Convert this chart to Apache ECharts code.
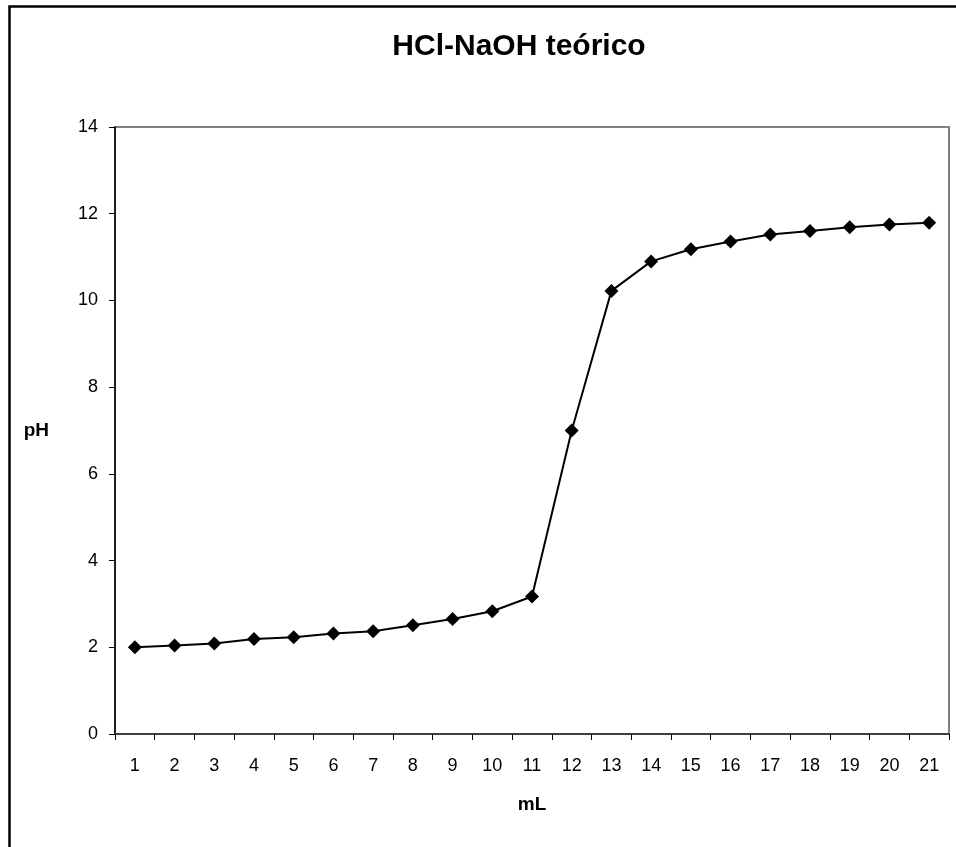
<!DOCTYPE html>
<html>
<head>
<meta charset="utf-8">
<script src="https://cdn.jsdelivr.net/npm/echarts@6/dist/echarts.min.js"></script>
<style>
html,body{margin:0;padding:0;background:#fff;}
#chart{width:956px;height:847px;}
</style>
</head>
<body>
<div id="chart"></div>
<script>
const categories = ['1','2','3','4','5','6','7','8','9','10','11','12','13','14','15','16','17','18','19','20','21'];
const phValues = [2.00,2.04,2.09,2.19,2.23,2.32,2.37,2.51,2.65,2.83,3.17,7.00,10.22,10.90,11.18,11.36,11.52,11.60,11.69,11.75,11.79];
const yTicks = [0,2,4,6,8,10,12,14];

const chart = echarts.init(document.getElementById('chart'), null, {renderer:'canvas'});
const font = 'Liberation Sans, Arial, sans-serif';
chart.setOption({
  animation:false,
  backgroundColor:'#fff',
  title:{
    text:'HCl-NaOH teórico',
    left:514, top:27, textAlign:'center',
    textStyle:{fontFamily:font,fontSize:30,fontWeight:'bold',color:'#000'}
  },
  graphic:[
    {type:'rect',shape:{x:9.5,y:6.5,width:1000,height:900},style:{fill:null,stroke:'#000',lineWidth:2.5},silent:true}
  ],
  grid:{left:115,right:7,top:127,bottom:113,show:true,borderColor:'#808080',borderWidth:2,backgroundColor:'#fff'},
  xAxis:{
    type:'category',
    data:categories,
    boundaryGap:true,
    name:'mL',
    nameLocation:'middle',
    nameGap:61,
    nameTextStyle:{fontFamily:font,fontSize:19,fontWeight:'bold',color:'#000',verticalAlign:'top'},
    axisLine:{lineStyle:{color:'#404040',width:2}},
    axisTick:{show:true,alignWithLabel:false,length:6,lineStyle:{color:'#000',width:1}},
    axisLabel:{fontFamily:font,fontSize:18,color:'#000',margin:23},
    splitLine:{show:false}
  },
  yAxis:{
    type:'value',
    min:0,max:14,interval:2,
    name:'pH',
    nameLocation:'middle',
    nameRotate:0,
    nameGap:66,
    nameTextStyle:{fontFamily:font,fontSize:19,fontWeight:'bold',color:'#000',padding:[0,0,26,0]},
    axisLine:{show:true,lineStyle:{color:'#000',width:1.5}},
    axisTick:{show:true,length:6,lineStyle:{color:'#000',width:1}},
    axisLabel:{fontFamily:font,fontSize:18,color:'#000',margin:17,
      formatter:function(v){return yTicks.indexOf(v)>=0?String(v):'';}},
    splitLine:{show:false}
  },
  series:[{
    type:'line',
    data:phValues,
    symbol:'diamond',
    symbolSize:14,
    itemStyle:{color:'#000'},
    lineStyle:{color:'#000',width:2}
  }]
});
</script>
</body>
</html>
